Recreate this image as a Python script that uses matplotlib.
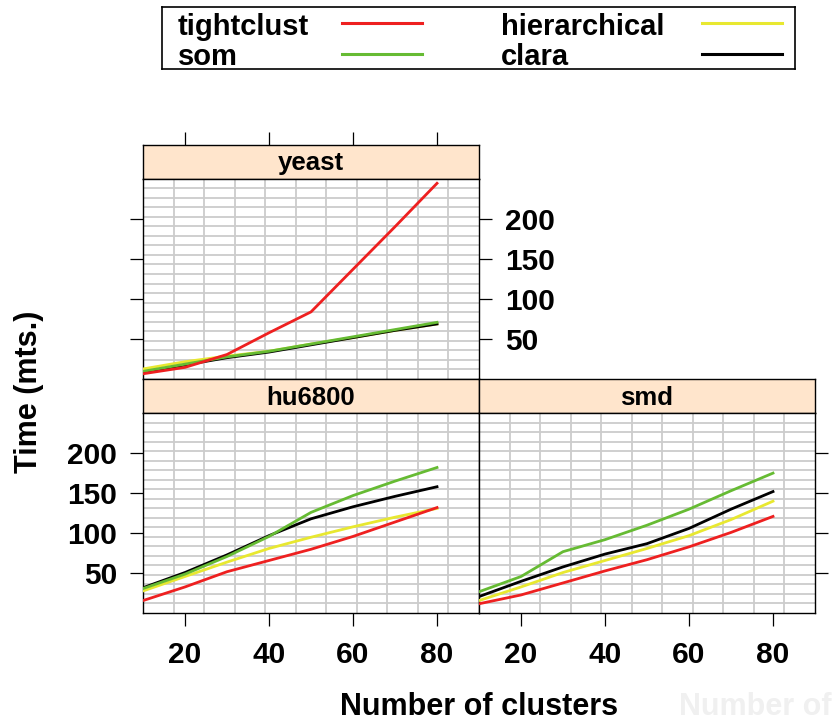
import matplotlib
matplotlib.use("Agg")
import matplotlib.pyplot as plt

plt.rcParams['font.family'] = ['Liberation Sans', 'DejaVu Sans']
plt.rcParams['font.weight'] = 'bold'

# number of clusters on the x axis
clusters = [10, 20, 30, 40, 50, 60, 70, 80]

methods = ['tightclust', 'som', 'hierarchical', 'clara']
colors = {'tightclust': '#ee2020', 'som': '#66bb33',
          'hierarchical': '#e8e830', 'clara': '#000000'}
draw_order = ['hierarchical', 'clara', 'som', 'tightclust']

# time (mts.) per data set
yeast_tightclust = [7, 15, 31, 58, 84, 137, 190, 244]
yeast_som = [10, 19, 28, 35, 44, 53, 62, 71]
yeast_hierarchical = [13, 22, 29, 35, 44, 52, 61, 69]
yeast_clara = [9, 18, 27, 34, 43, 52, 61, 69]

hu6800_tightclust = [16, 33, 52, 66, 80, 96, 114, 132]
hu6800_som = [31, 49, 71, 96, 126, 147, 165, 182]
hu6800_hierarchical = [28, 46, 64, 81, 95, 108, 120, 131]
hu6800_clara = [32, 51, 73, 97, 118, 133, 146, 158]

smd_tightclust = [12, 23, 38, 53, 67, 83, 101, 121]
smd_som = [27, 46, 77, 92, 110, 130, 153, 175]
smd_hierarchical = [16, 33, 51, 66, 81, 97, 117, 140]
smd_clara = [21, 40, 58, 74, 87, 106, 130, 152]

panels = {
    'yeast': dict(zip(methods, [yeast_tightclust, yeast_som,
                                yeast_hierarchical, yeast_clara])),
    'hu6800': dict(zip(methods, [hu6800_tightclust, hu6800_som,
                                 hu6800_hierarchical, hu6800_clara])),
    'smd': dict(zip(methods, [smd_tightclust, smd_som,
                              smd_hierarchical, smd_clara])),
}

x_ticks = [20, 40, 60, 80]
y_ticks = [50, 100, 150, 200]
xlim = (10, 90)
ylim = (0.5, 250)

W, H = 834, 722
fig = plt.figure(figsize=(W / 100, H / 100), dpi=100)


def box(x0, y0, x1, y1):
    return [x0 / W, 1 - y1 / H, (x1 - x0) / W, (y1 - y0) / H]


def make_panel(name, x0, x1, y_strip, y_top, y_bot):
    strip = fig.add_axes(box(x0, y_strip, x1, y_top))
    strip.set_facecolor('#ffe5cc')
    strip.set_xlim(*xlim)
    strip.set_ylim(0, 1)
    strip.set_yticks([])
    strip.set_xticks([])
    strip.text(0.5, 0.45, name, transform=strip.transAxes, ha='center',
               va='center', fontsize=18.5, fontweight='bold')
    ax = fig.add_axes(box(x0, y_top, x1, y_bot))
    ax.set_xlim(*xlim)
    ax.set_ylim(*ylim)
    for k in range(1, 11):
        ax.axvline(xlim[0] + k * (xlim[1] - xlim[0]) / 11, color='#cccccc',
                   lw=1.3, zorder=1)
    for k in range(1, 21):
        ax.axhline(ylim[0] + k * (ylim[1] - ylim[0]) / 21, color='#cccccc',
                   lw=1.3, zorder=1)
    for m in draw_order:
        ax.plot(clusters, panels[name][m], color=colors[m], lw=2.0, zorder=3)
    ax.set_xticks(x_ticks)
    ax.set_yticks(y_ticks)
    for sp in list(ax.spines.values()) + list(strip.spines.values()):
        sp.set_linewidth(1.0)
    ax.tick_params(direction='out', length=9.5, width=0.9, labelsize=21.5,
                   left=False, right=False, top=False, bottom=False,
                   labelleft=False, labelright=False, labeltop=False,
                   labelbottom=False)
    ax.tick_params(axis='y', pad=9)
    ax.tick_params(axis='x', pad=11)
    return strip, ax


s1, a1 = make_panel('yeast', 143, 479, 145, 178.5, 379)
s2, a2 = make_panel('hu6800', 143, 479, 379, 413, 613)
s3, a3 = make_panel('smd', 479, 815, 379, 413, 613)

# yeast: ticks left (no labels), right with labels, top ticks on strip
a1.tick_params(left=True, right=True, labelright=True)
s1.set_xticks(x_ticks)
s1.tick_params(direction='out', length=9.5, width=0.9, top=True,
               bottom=False, labeltop=False, labelbottom=False)
# hu6800: labelled left and bottom
a2.tick_params(left=True, labelleft=True, bottom=True, labelbottom=True)
# smd: labelled bottom, right ticks only
a3.tick_params(bottom=True, labelbottom=True, right=True)

fig.text(29 / W, 1 - 392 / H, 'Time (mts.)', rotation=90, ha='center',
         va='center', fontsize=22, fontweight='bold')
fig.text(479 / W, 1 - 715 / H, 'Number of clusters', ha='center',
         va='baseline', fontsize=22, fontweight='bold')
# faint ghost copy at the lower right edge
fig.text(832 / W, 1 - 715 / H, 'Number of', ha='right',
         va='baseline', fontsize=22, fontweight='bold', color='#f0f0f0')

# legend box drawn by hand: label then line sample
lg = fig.add_axes(box(161.5, 6.5, 795, 69))
lg.set_xlim(161.5, 795)
lg.set_ylim(69, 6.5)
lg.set_xticks([])
lg.set_yticks([])
for sp in lg.spines.values():
    sp.set_linewidth(1.2)
legend_cols = [(177.5, 341.5, 421.5), (500.5, 701.5, 781.5)]
legend_rows = [(35, 22.7), (65, 53.5)]
for i, m in enumerate(methods):
    tx, lx0, lx1 = legend_cols[i // 2]
    ty, ly = legend_rows[i % 2]
    lg.text(tx, ty, m, ha='left', va='baseline', fontsize=21,
            fontweight='bold')
    lg.plot([lx0, lx1], [ly, ly], color=colors[m], lw=2.2)

fig.savefig('out.png', dpi=100)
